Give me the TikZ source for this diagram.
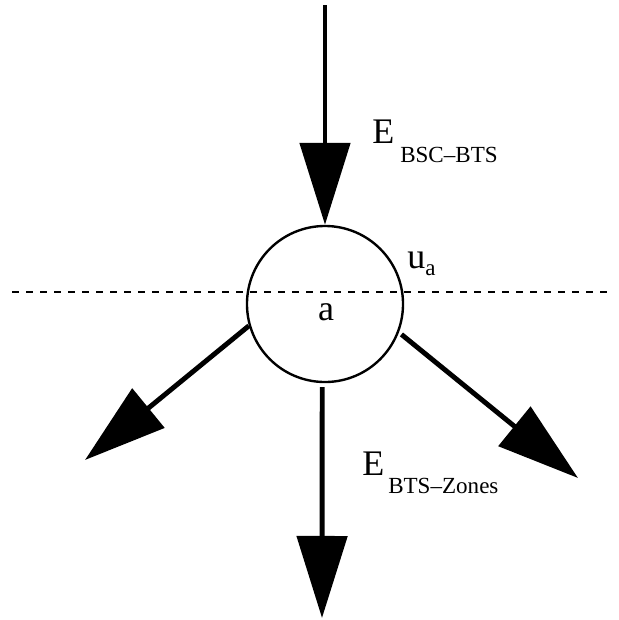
\documentclass[tikz,border=0pt]{standalone}
\usepackage{fontspec}
\setmainfont{Liberation Serif}
\usetikzlibrary{arrows.meta}

% index set below the baseline, as in E_{...}
\newcommand{\lowidx}[2][0.48cm]{\raisebox{-#1}{\fontsize{16.4}{18}\selectfont #2}}

\begin{document}
\begin{tikzpicture}[x=0.025cm,y=-0.025cm,>={Triangle[length=2.05cm,width=1.25cm]}]
  \tikzstyle{cell}=[circle,draw,line width=1.7pt,minimum size=3.9cm,inner sep=0pt]
  \tikzstyle{flow}=[->,line width=3.5pt]
  \tikzstyle{border}=[line width=1.7pt,dash pattern=on 0.18cm off 0.17cm]
  \tikzstyle{big}=[font=\fontsize{25.6}{28}\selectfont,inner sep=0pt]

  \useasboundingbox (0,0) rectangle (619,620);

  % zone border
  \coordinate (west) at (12,292);
  \coordinate (east) at (612,292);
  \draw[border] (west) -- (east);

  % the cell a
  \node[cell] (a) at (325,304) {};
  \node[big,anchor=base] (alabel) at (326,320) {a};
  \node[big,anchor=base west] (ua) at (407,268) {u\lowidx[0.18cm]{a}};

  % incoming flow
  \coordinate (src) at (325,5);
  \draw[flow] (src) -- (a.north);
  \node[big,anchor=base west] (ein) at (372,143) {E\hspace{0.15cm}\lowidx{BSC--BTS}};

  % outgoing flows
  \coordinate (sw) at (85,460);
  \coordinate (s) at (322,618);
  \coordinate (se) at (578,478);
  \draw[flow] (a.196) -- (sw);
  \draw[flow,shorten <=0.1cm] (a.-92) -- (s);
  \draw[flow,shorten <=0.08cm] (a.-21) -- (se);
  \node[big,anchor=base west] (eout) at (362,475) {E\hspace{0.1cm}\lowidx[0.45cm]{BTS--Zones}};
\end{tikzpicture}
\end{document}
